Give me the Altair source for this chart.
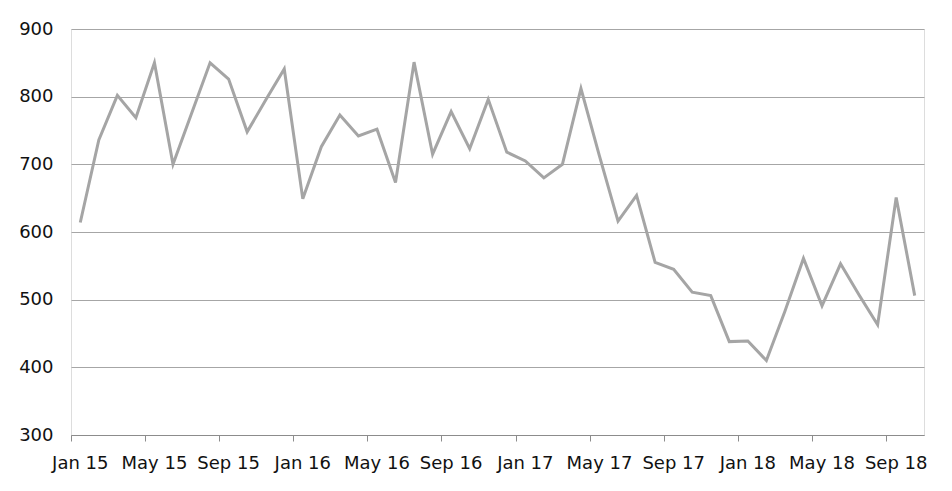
import altair as alt
import pandas as pd

month_names = ["Jan", "Feb", "Mar", "Apr", "May", "Jun",
               "Jul", "Aug", "Sep", "Oct", "Nov", "Dec"]
years = ["15", "16", "17", "18"]
months = [f"{m} {y}" for y in years for m in month_names][:46]  # Jan 15 .. Oct 18

values = [614, 736, 802, 769, 850, 700, 775, 850, 826, 748, 795, 841,
          649, 726, 773, 742, 752, 673, 851, 715, 778, 723, 796, 718,
          705, 680, 700, 812, 712, 616, 654, 555, 545, 511, 506, 438,
          439, 410, 483, 561, 491, 553, 507, 463, 651, 506]

tick_labels = months[::4]
y_ticks = [300, 400, 500, 600, 700, 800, 900]

df = pd.DataFrame({"month": months, "value": values})

W, H = 853, 406

chart = alt.Chart(df).mark_line(color="#a5a5a5", strokeWidth=3).encode(
    x=alt.X("month:O", sort=months, title=None,
            scale=alt.Scale(type="band", paddingInner=0, paddingOuter=0),
            axis=alt.Axis(values=tick_labels, labelAngle=0, bandPosition=0,
                          tickSize=6, tickColor="#8c8c8c",
                          domainColor="#8c8c8c", domainWidth=1.2,
                          labelPadding=13, labelFontSize=18, labelColor="#111111",
                          labelFont="DejaVu Sans", grid=False)),
    y=alt.Y("value:Q", title=None,
            scale=alt.Scale(domain=[300, 900], nice=False, zero=False),
            axis=alt.Axis(values=y_ticks, ticks=False, domain=False,
                          grid=True, gridColor="#a6a6a6", gridWidth=1,
                          labelPadding=18, labelFontSize=18, labelColor="#111111",
                          labelFont="DejaVu Sans")),
).properties(
    width=W, height=H,
    autosize=alt.AutoSizeParams(type="none"),
    padding={"left": 63, "top": 21, "right": 20, "bottom": 50},
).configure_view(stroke=None).configure(background="white")

chart.save("out.html", embed_options={"renderer": "svg", "actions": False})
